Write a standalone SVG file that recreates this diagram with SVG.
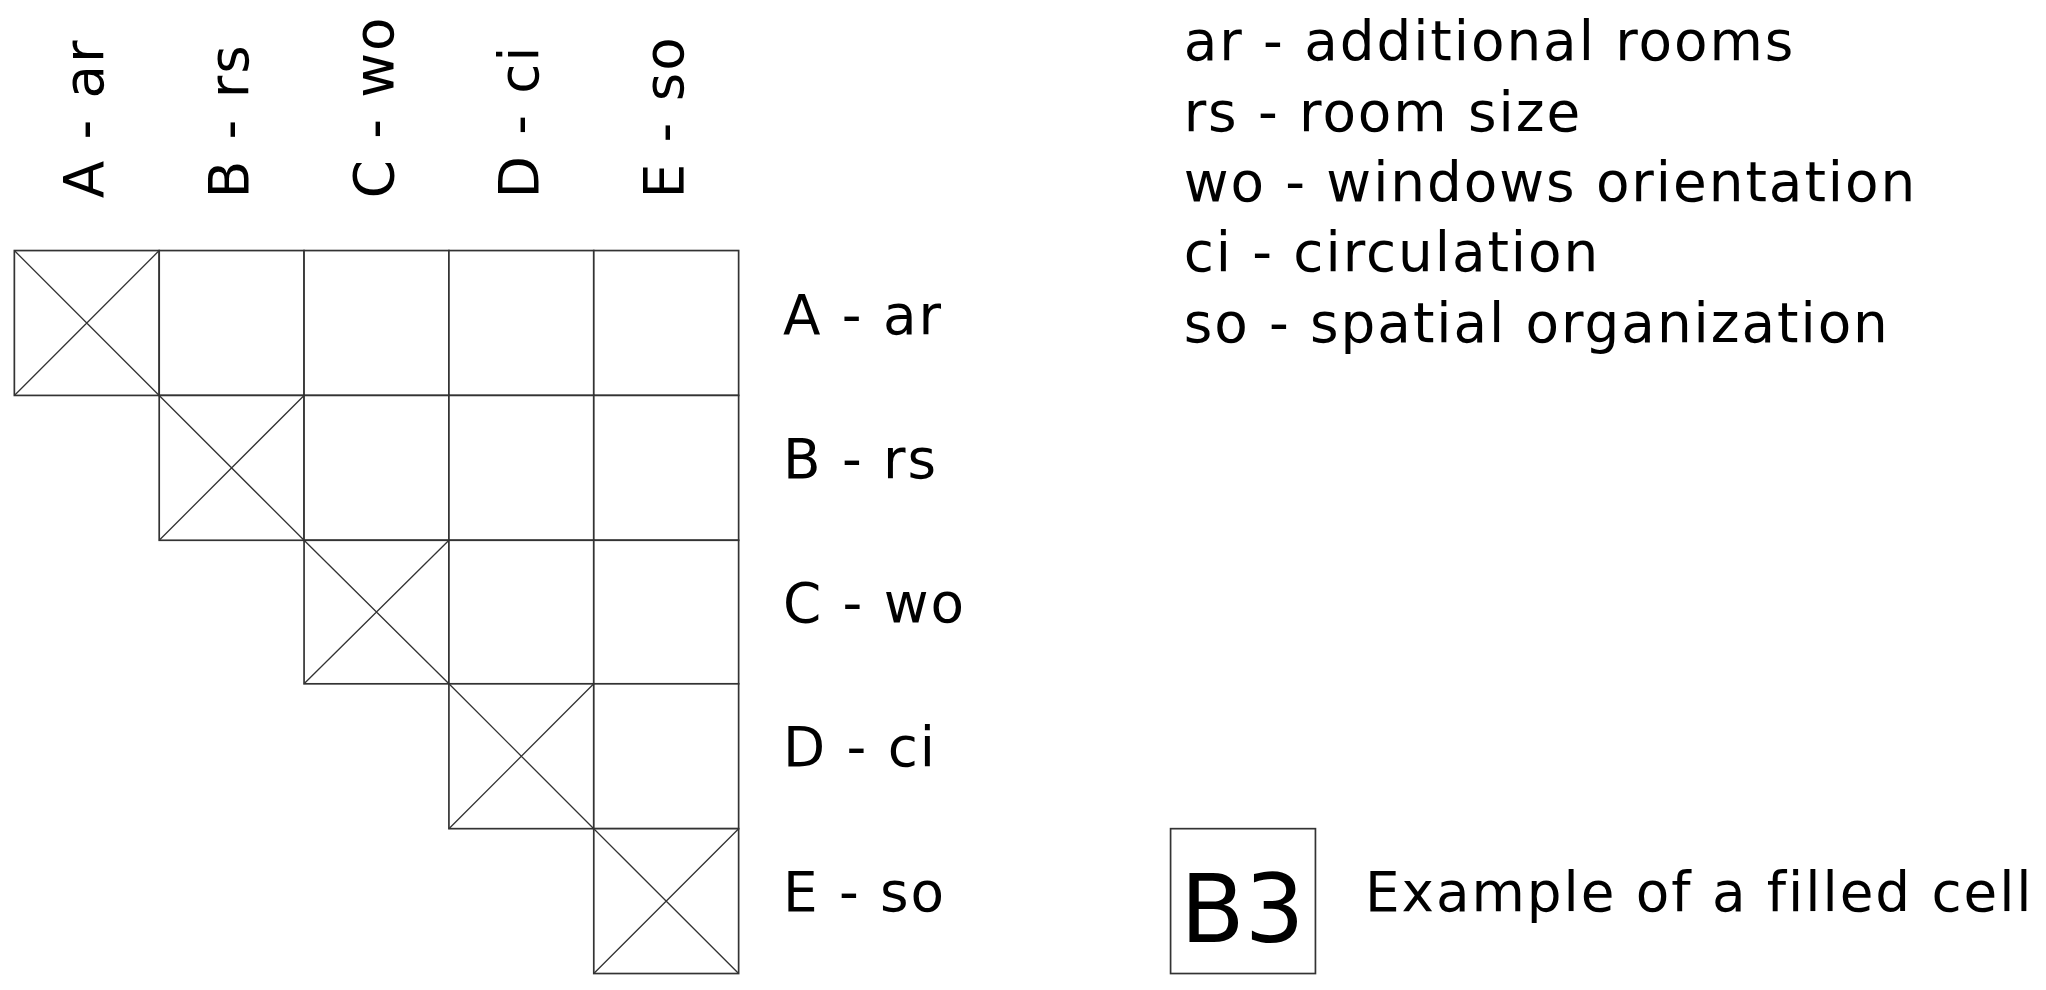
<svg xmlns="http://www.w3.org/2000/svg" width="2046" height="990" viewBox="0 0 2046 990">
<style>
text{font-family:"DejaVu Sans",sans-serif;font-size:42px;letter-spacing:1.5px;fill:#000}
.c{fill:#fff;stroke:#333;stroke-width:1.3}
.d{stroke:#333;stroke-width:1}
</style>
<rect width="2046" height="990" fill="#fff"/>
<g transform="scale(1.305,1.305)">
<g id="grid">
<rect class="c" x="11" y="192" width="111" height="111"/><rect class="c" x="122" y="192" width="111" height="111"/><rect class="c" x="233" y="192" width="111" height="111"/><rect class="c" x="344" y="192" width="111" height="111"/><rect class="c" x="455" y="192" width="111" height="111"/>
<rect class="c" x="122" y="303" width="111" height="111"/><rect class="c" x="233" y="303" width="111" height="111"/><rect class="c" x="344" y="303" width="111" height="111"/><rect class="c" x="455" y="303" width="111" height="111"/>
<rect class="c" x="233" y="414" width="111" height="110"/><rect class="c" x="344" y="414" width="111" height="110"/><rect class="c" x="455" y="414" width="111" height="110"/>
<rect class="c" x="344" y="524" width="111" height="111"/><rect class="c" x="455" y="524" width="111" height="111"/>
<rect class="c" x="455" y="635" width="111" height="111"/>
<path class="d" d="M11 192L122 303M122 192L11 303M122 303L233 414M233 303L122 414M233 414L344 524M344 414L233 524M344 524L455 635M455 524L344 635M455 635L566 746M566 635L455 746"/>
</g>
<g id="col-labels" style="letter-spacing:0.5px">
<text transform="translate(79,152) rotate(-90)">A - ar</text>
<text transform="translate(190,152) rotate(-90)">B - rs</text>
<text transform="translate(301,152) rotate(-90)">C - wo</text>
<text transform="translate(412,152) rotate(-90)">D - ci</text>
<text transform="translate(523,152) rotate(-90)">E - so</text>
</g>
<g id="row-labels">
<text x="600" y="256">A - ar</text>
<text x="600" y="366">B - rs</text>
<text x="600" y="477">C - wo</text>
<text x="600" y="587">D - ci</text>
<text x="600" y="698">E - so</text>
</g>
<g id="legend">
<text x="907" y="46">ar - additional rooms</text>
<text x="907" y="100">rs - room size</text>
<text x="907" y="154">wo - windows orientation</text>
<text x="907" y="208">ci - circulation</text>
<text x="907" y="262">so - spatial organization</text>
</g>
<g id="example">
<rect class="c" x="897" y="635" width="111" height="111"/>
<text x="952" y="722" text-anchor="middle" style="font-size:72px;letter-spacing:0">B3</text>
<text x="1046" y="698">Example of a filled cell</text>
</g>
</g>
</svg>
